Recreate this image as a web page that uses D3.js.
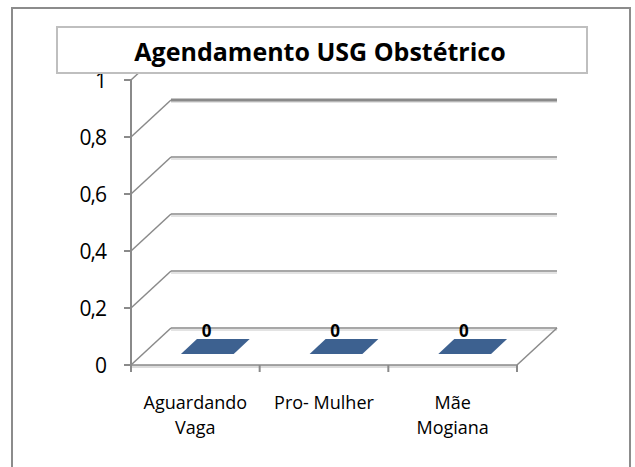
<!DOCTYPE html>
<html>
<head>
<meta charset="utf-8">
<script src="https://cdn.jsdelivr.net/npm/d3@7"></script>
<style>
  body { margin: 0; background: #fff; }
  svg { display: block; }
</style>
</head>
<body>
<svg id="chart"></svg>
<script>
const CATEGORIES = ["Aguardando Vaga", "Pro- Mulher", "Mãe Mogiana"];
const LABEL_LINES = [["Aguardando", "Vaga"], ["Pro- Mulher"], ["Mãe", "Mogiana"]];
const VALUES = [0, 0, 0];
const Y_TICKS = [0, 0.2, 0.4, 0.6, 0.8, 1];
const TITLE = "Agendamento USG Obstétrico";

const width = 635, height = 467;
const font = "'Open Sans', 'DejaVu Sans', sans-serif";
const lineColor = "#8a8a8a";
const shadowColor = "#dadada";
const barColor = "#3d6190";

// 3D depth offset of the floor / walls
const depthX = 40, depthY = -37;

const svg = d3.select("#chart")
	.attr("width", width)
	.attr("height", height)
	.attr("font-family", font);

const x = d3.scaleBand().domain(CATEGORIES).range([131, 517]);
const y = d3.scaleLinear().domain([0, 1]).range([365, 80]);
const depth = d3.scaleLinear().domain([0, 1]).range([0, 1]);

const fmt = (d) => d3.format(".1~f")(d).replace(".", ",");

// outer chart border
svg.append("rect")
	.attr("x", 12).attr("y", 8)
	.attr("width", 618).attr("height", 470)
	.attr("fill", "#fff")
	.attr("stroke", "#8c8c8c")
	.attr("stroke-width", 2);

const plot = svg.append("g");

// back wall gridlines (with a soft shadow line below)
const back = plot.append("g");
back.selectAll("line.shadow")
	.data(Y_TICKS)
	.join("line")
	.attr("class", "shadow")
	.attr("x1", x.range()[0] + depthX)
	.attr("x2", x.range()[1] + depthX)
	.attr("y1", (d) => y(d) + depthY + 2)
	.attr("y2", (d) => y(d) + depthY + 2)
	.attr("stroke", shadowColor)
	.attr("stroke-width", 1.5);
back.selectAll("line.grid")
	.data(Y_TICKS)
	.join("line")
	.attr("class", "grid")
	.attr("x1", x.range()[0] + depthX)
	.attr("x2", (d) => x.range()[1] + depthX)
	.attr("y1", (d) => y(d) + depthY)
	.attr("y2", (d) => y(d) + depthY)
	.attr("stroke", lineColor)
	.attr("stroke-width", (d) => (d === 0.8 ? 3 : 1.5));

// left wall diagonals
plot.append("g")
	.selectAll("line")
	.data(Y_TICKS)
	.join("line")
	.attr("x1", x.range()[0])
	.attr("y1", (d) => y(d))
	.attr("x2", x.range()[0] + depthX)
	.attr("y2", (d) => y(d) + depthY)
	.attr("stroke", lineColor)
	.attr("stroke-width", 1.5);

// floor: front thickness band, right edge
plot.append("rect")
	.attr("x", x.range()[0])
	.attr("y", y(0))
	.attr("width", x.range()[1] - x.range()[0])
	.attr("height", 3)
	.attr("fill", "#dcdcdc");
plot.append("line")
	.attr("x1", x.range()[0]).attr("y1", y(0))
	.attr("x2", x.range()[1]).attr("y2", y(0))
	.attr("stroke", lineColor)
	.attr("stroke-width", 1.5);
plot.append("line")
	.attr("x1", x.range()[1]).attr("y1", y(0))
	.attr("x2", x.range()[1] + depthX).attr("y2", y(0) + depthY)
	.attr("stroke", lineColor)
	.attr("stroke-width", 1.5);

// bars (zero height, so only the top face shows)
const barW = x.bandwidth() * 0.41;
const d0 = depth(0.3), d1 = depth(0.7);
plot.append("g")
	.selectAll("path")
	.data(VALUES)
	.join("path")
	.attr("fill", barColor)
	.attr("d", (v, i) => {
		const cx = x(CATEGORIES[i]) + x.bandwidth() / 2;
		const left = cx - barW / 2, right = cx + barW / 2, yv = y(v);
		const p = (px, k) => [px + depthX * k, yv + depthY * k];
		return d3.line()([p(left, d0), p(right, d0), p(right, d1), p(left, d1)]) + "Z";
	});

// data labels
plot.append("g")
	.selectAll("text")
	.data(VALUES)
	.join("text")
	.attr("x", (v, i) => x(CATEGORIES[i]) + x.bandwidth() / 2 + depthX * 0.28)
	.attr("y", (v) => y(v) + depthY * 0.7 - 2)
	.attr("text-anchor", "middle")
	.attr("font-size", 17)
	.attr("font-weight", "bold")
	.attr("fill", "#000")
	.text((v) => fmt(v));

// y axis
const yAxis = plot.append("g");
yAxis.append("line")
	.attr("x1", x.range()[0]).attr("x2", x.range()[0])
	.attr("y1", y(1)).attr("y2", y(0))
	.attr("stroke", lineColor)
	.attr("stroke-width", 2);
yAxis.selectAll("line.tick")
	.data(Y_TICKS)
	.join("line")
	.attr("class", "tick")
	.attr("x1", x.range()[0] - 7).attr("x2", x.range()[0])
	.attr("y1", (d) => y(d)).attr("y2", (d) => y(d))
	.attr("stroke", lineColor)
	.attr("stroke-width", 2);
yAxis.selectAll("text")
	.data(Y_TICKS)
	.join("text")
	.attr("x", 106)
	.attr("y", (d) => y(d))
	.attr("dy", "0.36em")
	.attr("text-anchor", "end")
	.attr("font-size", 21)
	.attr("letter-spacing", -1)
	.attr("fill", "#000")
	.text(fmt);

// x axis ticks and labels
const xTicks = [x.range()[0]].concat(CATEGORIES.map((c) => x(c) + x.bandwidth()));
plot.append("g")
	.selectAll("line")
	.data(xTicks)
	.join("line")
	.attr("x1", (d) => d).attr("x2", (d) => d)
	.attr("y1", y(0)).attr("y2", y(0) + 7)
	.attr("stroke", lineColor)
	.attr("stroke-width", 2);

plot.append("g")
	.selectAll("text")
	.data(LABEL_LINES)
	.join("text")
	.attr("text-anchor", "middle")
	.attr("font-size", 18)
	.attr("fill", "#000")
	.each(function (lines, i) {
		const cx = x(CATEGORIES[i]) + x.bandwidth() / 2;
		d3.select(this)
			.selectAll("tspan")
			.data(lines)
			.join("tspan")
			.attr("x", cx)
			.attr("y", (l, j) => 409 + j * 25)
			.text((l) => l);
	});

// title box on top (it hides the top of the walls)
svg.append("rect")
	.attr("x", 57).attr("y", 27)
	.attr("width", 530).attr("height", 46)
	.attr("fill", "#fff")
	.attr("stroke", "#bfbfbf")
	.attr("stroke-width", 2);
svg.append("text")
	.attr("x", 320)
	.attr("y", 61)
	.attr("text-anchor", "middle")
	.attr("font-size", 25)
	.attr("font-weight", "bold")
	.attr("fill", "#000")
	.text(TITLE);
</script>
</body>
</html>
